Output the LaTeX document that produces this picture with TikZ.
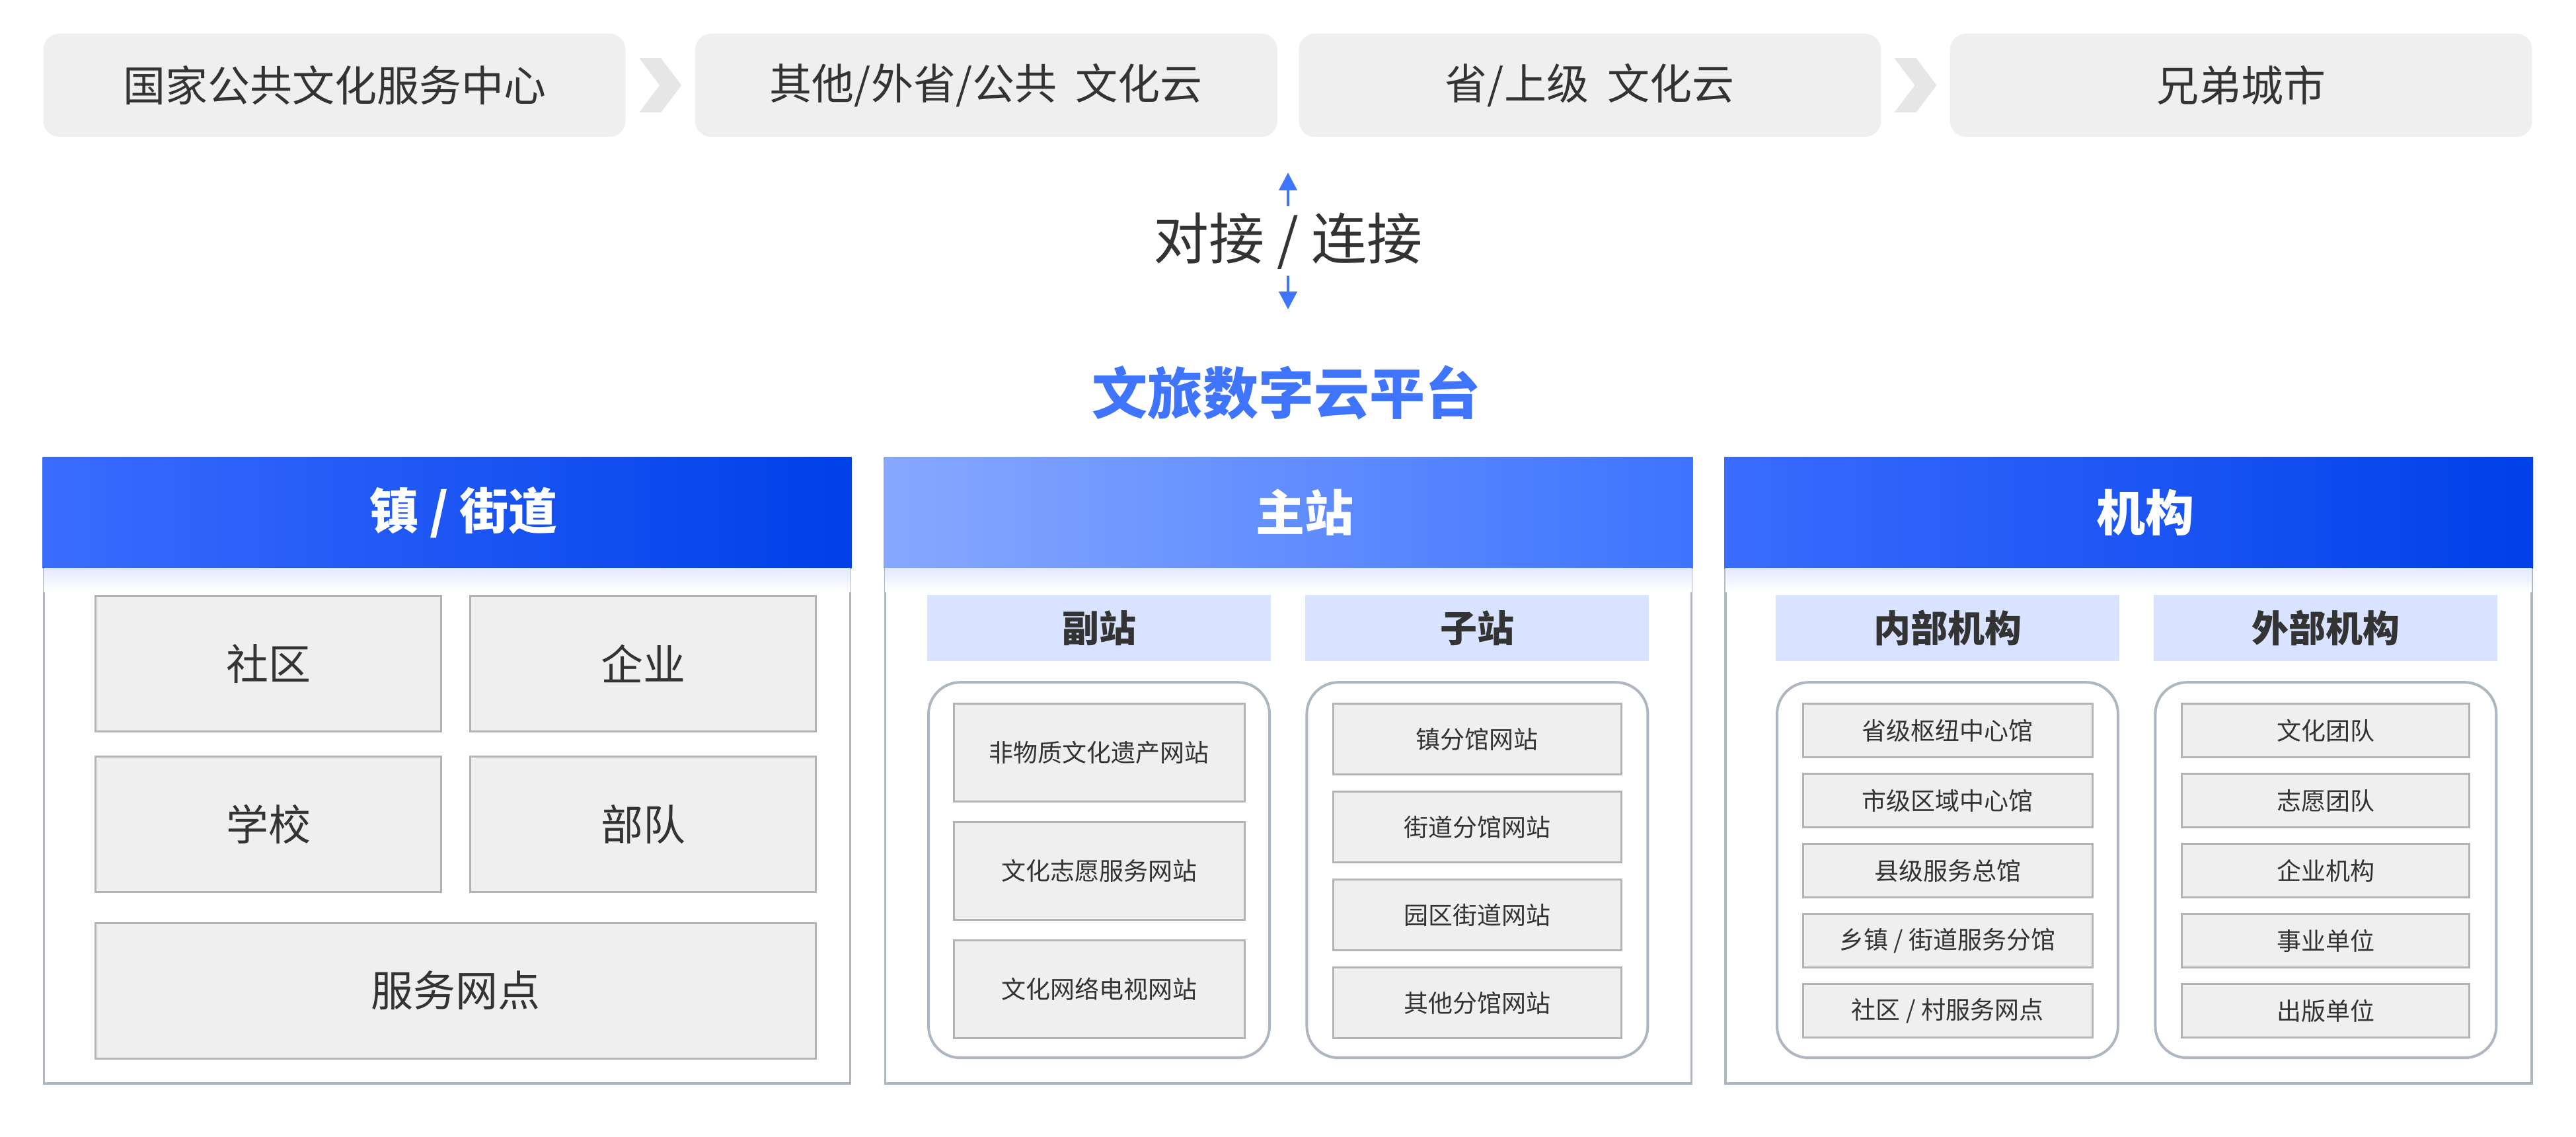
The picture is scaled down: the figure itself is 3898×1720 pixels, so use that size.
\documentclass[tikz,border=0pt]{standalone}
\usepackage{fontspec}
\setmainfont{Noto Sans CJK SC}
\usetikzlibrary{arrows.meta, positioning, calc}

\definecolor{txt}{HTML}{333333}
\definecolor{boxgray}{HTML}{EFEFEF}
\definecolor{chevgray}{HTML}{E6E6E6}
\definecolor{itemline}{HTML}{B3B3B3}
\definecolor{frameline}{HTML}{AEB6C1}
\definecolor{subblue}{HTML}{D9E3FF}
\definecolor{linkblue}{HTML}{3F74FF}
\definecolor{glow}{HTML}{E2E9FC}

\tikzstyle{topbox} = [fill=boxgray, rounded corners=24pt, minimum width=881pt, minimum height=156pt, text=txt, font=\fontsize{64}{70}\selectfont]
\tikzstyle{chev} = [fill=chevgray]
\tikzstyle{panel} = [draw=frameline, line width=3.5pt, fill=white, minimum width=1220pt, minimum height=946pt]
\tikzstyle{headbar} = [minimum width=1224pt, minimum height=168pt, inner sep=0pt]
\tikzstyle{deephead} = [headbar, left color={rgb,255:red,58;green,108;blue,255}, middle color={rgb,255:red,10;green,70;blue,236}, right color={rgb,255:red,0;green,64;blue,232}]
\tikzstyle{lighthead} = [headbar, left color={rgb,255:red,135;green,168;blue,255}, middle color={rgb,255:red,80;green,130;blue,255}, right color={rgb,255:red,61;green,115;blue,255}]
\tikzstyle{ptitle} = [text=white, font=\fontsize{74}{80}\selectfont\bfseries]
\tikzstyle{subhead} = [fill=subblue, minimum width=520pt, minimum height=100pt, text=txt, font=\fontsize{56}{60}\selectfont\bfseries]
\tikzstyle{holder} = [draw=frameline, line width=4pt, rounded corners=48pt, minimum width=516pt, minimum height=568pt]
\tikzstyle{itembox} = [draw=itemline, line width=3pt, fill=boxgray, text=txt, font=\fontsize{37}{40}\selectfont]
\tikzstyle{bigitem} = [itembox, minimum width=523pt, minimum height=205pt, font=\fontsize{64}{70}\selectfont]
\tikzstyle{linkarrow} = [draw=linkblue, line width=4.5pt, -{Triangle[length=27pt,width=27pt]}]

\newcommand{\chevron}[1]{\fill[chev] (#1) ++(-32,-41) -- ++(33,0) -- ++(31,41) -- ++(-31,41) -- ++(-33,0) -- ++(31,-41) -- cycle;}

\begin{document}
\begin{tikzpicture}[x=1pt,y=-1pt]
        \useasboundingbox (0,0) rectangle (3898,1720);

        % top row
        \node (top1) [topbox] at (506,129) {国家公共文化服务中心};
        \node (top2) [topbox, right=105pt of top1] {其他/外省/公共~~文化云};
        \node (top3) [topbox, right=32pt of top2] {省/上级~~文化云};
        \node (top4) [topbox, right=104pt of top3] {兄弟城市};
        \chevron{$(top1.east)!0.5!(top2.west)$}
        \chevron{$(top3.east)!0.5!(top4.west)$}

        % link
        \node (link) [text=txt, font=\fontsize{84}{90}\selectfont, minimum height=105pt, inner sep=0pt] at (1949,364.5) {对接 / 连接};
        \coordinate (linkup) at (1949,261);
        \coordinate (linkdown) at (1949,468);
        \draw[linkarrow] (link.north) -- (linkup);
        \draw[linkarrow] (link.south) -- (linkdown);
        \node (platform) [text=linkblue, font=\fontsize{84}{90}\selectfont\bfseries] at (1946,594) {文旅数字云平台};

        % panel 1
        \node (p1) [panel] at (676.5,1166) {};
        \node (h1) [deephead] at (676.5,775) {};
        \shade[top color=glow, bottom color=white] ([xshift=2pt]h1.south west) rectangle ([xshift=-2pt,yshift=-36pt]h1.south east);
        \node (t1) [ptitle] at ([xshift=25pt]h1.center) {镇 / 街道};
        \node (sq) [bigitem] at (406,1004) {社区};
        \node (qy) [bigitem, right=41pt of sq] {企业};
        \node (xx) [bigitem, below=35pt of sq] {学校};
        \node (bd) [bigitem, right=41pt of xx] {部队};
        \node (fw) [bigitem, minimum width=1090pt] at (689.5,1498.5) {服务网点};

        % panel 2
        \node (p2) [panel] at (1949.5,1166) {};
        \node (h2) [lighthead] at (1949.5,775) {};
        \shade[top color=glow, bottom color=white] ([xshift=2pt]h2.south west) rectangle ([xshift=-2pt,yshift=-36pt]h2.south east);
        \node (t2) [ptitle] at ([xshift=25pt]h2.center) {主站};
        \node (fz) [subhead] at (1663,950) {副站};
        \node (zz) [subhead, right=52pt of fz] {子站};
        \node (fzbox) [holder, below=30pt of fz] {};
        \node (zzbox) [holder, below=30pt of zz] {};
        \node (fz1) [itembox, minimum width=440pt, minimum height=148pt, below=33pt of fzbox.north] {非物质文化遗产网站};
        \node (fz2) [itembox, minimum width=440pt, minimum height=148pt, below=28pt of fz1] {文化志愿服务网站};
        \node (fz3) [itembox, minimum width=440pt, minimum height=148pt, below=28pt of fz2] {文化网络电视网站};
        \node (zz1) [itembox, minimum width=436pt, minimum height=107pt, below=33pt of zzbox.north] {镇分馆网站};
        \node (zz2) [itembox, minimum width=436pt, minimum height=107pt, below=23pt of zz1] {街道分馆网站};
        \node (zz3) [itembox, minimum width=436pt, minimum height=107pt, below=23pt of zz2] {园区街道网站};
        \node (zz4) [itembox, minimum width=436pt, minimum height=107pt, below=23pt of zz3] {其他分馆网站};

        % panel 3
        \node (p3) [panel] at (3221,1166) {};
        \node (h3) [deephead] at (3221,775) {};
        \shade[top color=glow, bottom color=white] ([xshift=2pt]h3.south west) rectangle ([xshift=-2pt,yshift=-36pt]h3.south east);
        \node (t3) [ptitle] at ([xshift=25pt]h3.center) {机构};
        \node (nb) [subhead] at (2947,950) {内部机构};
        \node (wb) [subhead, right=52pt of nb] {外部机构};
        \node (nbbox) [holder, below=30pt of nb] {};
        \node (wbbox) [holder, below=30pt of wb] {};
        \node (nb1) [itembox, minimum width=438pt, minimum height=81pt, below=33pt of nbbox.north] {省级枢纽中心馆};
        \node (nb2) [itembox, minimum width=438pt, minimum height=81pt, below=22pt of nb1] {市级区域中心馆};
        \node (nb3) [itembox, minimum width=438pt, minimum height=81pt, below=22pt of nb2] {县级服务总馆};
        \node (nb4) [itembox, minimum width=438pt, minimum height=81pt, below=22pt of nb3] {乡镇 / 街道服务分馆};
        \node (nb5) [itembox, minimum width=438pt, minimum height=81pt, below=22pt of nb4] {社区 / 村服务网点};
        \node (wb1) [itembox, minimum width=435pt, minimum height=81pt, below=33pt of wbbox.north] {文化团队};
        \node (wb2) [itembox, minimum width=435pt, minimum height=81pt, below=22pt of wb1] {志愿团队};
        \node (wb3) [itembox, minimum width=435pt, minimum height=81pt, below=22pt of wb2] {企业机构};
        \node (wb4) [itembox, minimum width=435pt, minimum height=81pt, below=22pt of wb3] {事业单位};
        \node (wb5) [itembox, minimum width=435pt, minimum height=81pt, below=22pt of wb4] {出版单位};

    \end{tikzpicture}
\end{document}
